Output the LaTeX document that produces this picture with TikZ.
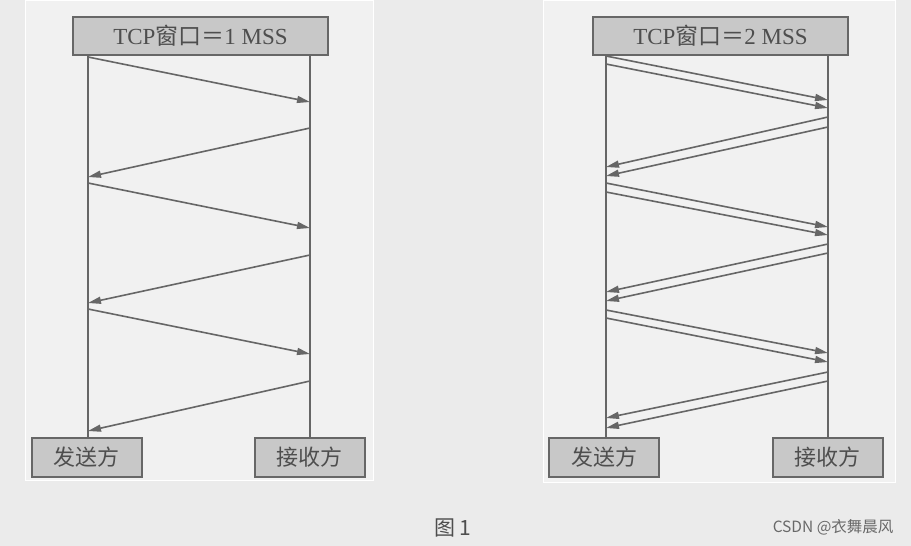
\documentclass[tikz,border=0pt]{standalone}
\usepackage{fontspec}
\setmainfont{Liberation Serif}
\newfontfamily\cjk{Noto Sans CJK SC}
\usetikzlibrary{arrows.meta}
\definecolor{bg}{HTML}{EBEBEB}
\definecolor{panel}{HTML}{F1F1F1}
\definecolor{boxfill}{HTML}{C8C8C8}
\definecolor{boxline}{HTML}{676767}
\definecolor{txt}{HTML}{4E4E4E}
\definecolor{ln}{HTML}{666666}
\tikzset{
  hdr/.style={draw=boxline, line width=2pt, fill=boxfill, minimum width=255pt, minimum height=38pt, inner sep=0pt, text=txt, font=\fontsize{23}{25}\selectfont},
  party/.style={draw=boxline, line width=2pt, fill=boxfill, minimum width=110pt, minimum height=39pt, inner sep=0pt, text=txt, font=\cjk\fontsize{22}{24}\selectfont},
  life/.style={draw=ln, line width=1.5pt},
  msg/.style={draw=ln, line width=1.6pt, -{Triangle[length=13pt,width=7pt]}}
}
\begin{document}
\begin{tikzpicture}[x=1pt,y=-1pt]
\useasboundingbox (0,0) rectangle (911,546);
\fill[bg] (0,0) rectangle (911,546);
\draw[white, line width=0.8pt, fill=panel] (25,0) rectangle (373,480);
\draw[white, line width=0.8pt, fill=panel] (543,0) rectangle (895,482);

% ---- left diagram ----
\node[hdr] (lt) at (200.5,36) {TCP{\cjk 窗口＝}1 MSS};
\node[party] (ls) at (86.5,457.5) {发送方};
\node[party] (lr) at (309.5,457.5) {接收方};
\draw[life] (88,55) -- (88,438);
\draw[life] (310,55) -- (310,438);
\foreach \n/\a/\b in {1/57/102,3/183/228,5/309/354}{
  \coordinate (ls\n) at (88,\a);
  \coordinate (lr\n) at (310,\b);
  \draw[msg] (ls\n) -- (lr\n);
}
\foreach \n/\a/\b in {2/128/177,4/255/303,6/381/431}{
  \coordinate (lr\n) at (310,\a);
  \coordinate (ls\n) at (88,\b);
  \draw[msg] (lr\n) -- (ls\n);
}

% ---- right diagram ----
\node[hdr] (rt) at (720.5,36) {TCP{\cjk 窗口＝}2 MSS};
\node[party] (rs) at (604,457.5) {发送方};
\node[party] (rr) at (827.5,457.5) {接收方};
\draw[life] (606,55) -- (606,438);
\draw[life] (828,55) -- (828,438);
\foreach \n/\a/\b in {1/56/100,2/64/108,5/183/227,6/192/235,9/310/353,10/318/362}{
  \coordinate (rs\n) at (606,\a);
  \coordinate (rr\n) at (828,\b);
  \draw[msg] (rs\n) -- (rr\n);
}
\foreach \n/\a/\b in {3/117/167,4/127/176,7/244/292,8/253/301,11/372/418,12/381/428}{
  \coordinate (rr\n) at (828,\a);
  \coordinate (rs\n) at (606,\b);
  \draw[msg] (rr\n) -- (rs\n);
}

% ---- captions ----
\node[text=txt, font=\cjk\fontsize{21}{23}\selectfont] (cap) at (453,528) {图\hspace{4pt}1};
\node[text=txt!85, font=\cjk\fontsize{15.5}{17}\selectfont, anchor=east] (mark) at (897,527) {CSDN @衣舞晨风};
\end{tikzpicture}
\end{document}
